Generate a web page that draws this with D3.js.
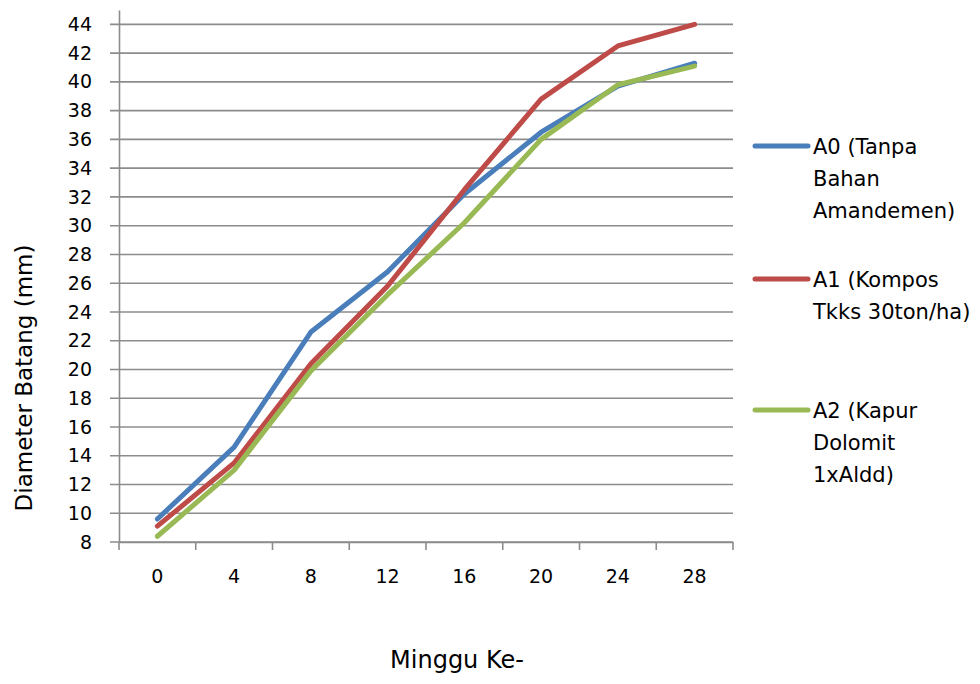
<!DOCTYPE html>
<html lang="en">
<head>
    <meta charset="UTF-8">
    <script src="https://cdnjs.cloudflare.com/ajax/libs/d3/7.8.5/d3.min.js"></script>
    <style>
        body { margin: 0; background: #fff; }
        text { font-family: "DejaVu Sans", sans-serif; fill: #000; }
    </style>
</head>
<body>
<div id="chart"></div>
<script>
    // data
    var weeks = ["0", "4", "8", "12", "16", "20", "24", "28"];
    var a0 = [9.6, 14.6, 22.6, 26.8, 32.2, 36.5, 39.7, 41.3];
    var a1 = [9.1, 13.5, 20.4, 25.8, 32.5, 38.8, 42.5, 44.0];
    var a2 = [8.4, 13.0, 19.9, 25.2, 30.2, 36.0, 39.8, 41.1];
    var yTicks = [8, 10, 12, 14, 16, 18, 20, 22, 24, 26, 28, 30, 32, 34, 36, 38, 40, 42, 44];
    var seriesNames = [
        ["A0 (Tanpa", "Bahan", "Amandemen)"],
        ["A1 (Kompos", "Tkks 30ton/ha)"],
        ["A2 (Kapur", "Dolomit", "1xAldd)"]
    ];
    var colors = ["#4a7ebb", "#be4b48", "#98b954"];

    var svg = d3.select("#chart").append("svg")
        .attr("width", 980)
        .attr("height", 684);

    var x = d3.scaleBand().domain(weeks).range([119, 733]);
    var y = d3.scaleLinear().domain([8, 45]).range([542, 10]);
    var grid = "#8c8c8c";

    // horizontal gridlines + left ticks
    svg.append("g").selectAll("line").data(yTicks).enter().append("line")
        .attr("x1", 110).attr("x2", 733)
        .attr("y1", function (d) { return y(d); })
        .attr("y2", function (d) { return y(d); })
        .attr("stroke", grid).attr("stroke-width", 1.6);

    // y axis
    var yAxis = svg.append("g")
        .attr("transform", "translate(119,0)")
        .call(d3.axisLeft(y).tickValues(yTicks).tickSize(0).tickPadding(27));
    yAxis.select(".domain").attr("stroke", grid).attr("stroke-width", 1.6);
    yAxis.selectAll("text").style("font-size", "19px")
        .style("font-family", "DejaVu Sans, sans-serif").attr("fill", "#000");

    // x axis
    var xAxis = svg.append("g")
        .attr("transform", "translate(0,542)")
        .call(d3.axisBottom(x).tickSize(0).tickPadding(28));
    xAxis.select(".domain").attr("stroke", grid).attr("stroke-width", 1.6);
    xAxis.selectAll("text").style("font-size", "19px")
        .style("font-family", "DejaVu Sans, sans-serif").attr("fill", "#000");

    var bounds = weeks.map(function (w) { return x(w); }).concat([733]);
    svg.append("g").selectAll("line").data(bounds).enter().append("line")
        .attr("x1", function (d) { return d; })
        .attr("x2", function (d) { return d; })
        .attr("y1", 542).attr("y2", 550)
        .attr("stroke", grid).attr("stroke-width", 1.6);

    // lines
    var line = d3.line()
        .x(function (d, i) { return x(weeks[i]) + x.bandwidth() / 2; })
        .y(function (d) { return y(d); });

    [a0, a1, a2].forEach(function (s, k) {
        svg.append("path")
            .datum(s)
            .attr("d", line)
            .attr("fill", "none")
            .attr("stroke", colors[k])
            .attr("stroke-width", 5)
            .attr("stroke-linejoin", "round")
            .attr("stroke-linecap", "round");
    });

    // legend
    var legendY = [146, 279, 410];
    seriesNames.forEach(function (lines, k) {
        var g = svg.append("g").attr("transform", "translate(0," + legendY[k] + ")");
        g.append("line")
            .attr("x1", 755).attr("x2", 808)
            .attr("y1", 0).attr("y2", 0)
            .attr("stroke", colors[k])
            .attr("stroke-width", 5)
            .attr("stroke-linecap", "round");
        lines.forEach(function (t, j) {
            g.append("text")
                .attr("x", 813)
                .attr("y", j * 32 + 8)
                .style("font-size", "21px")
                .text(t);
        });
    });

    // axis titles
    svg.append("text")
        .attr("transform", "translate(32,378) rotate(-90)")
        .attr("text-anchor", "middle")
        .style("font-size", "23px")
        .text("Diameter Batang (mm)");

    svg.append("text")
        .attr("x", 457)
        .attr("y", 668)
        .attr("text-anchor", "middle")
        .style("font-size", "24px")
        .text("Minggu Ke-");
</script>
</body>
</html>
